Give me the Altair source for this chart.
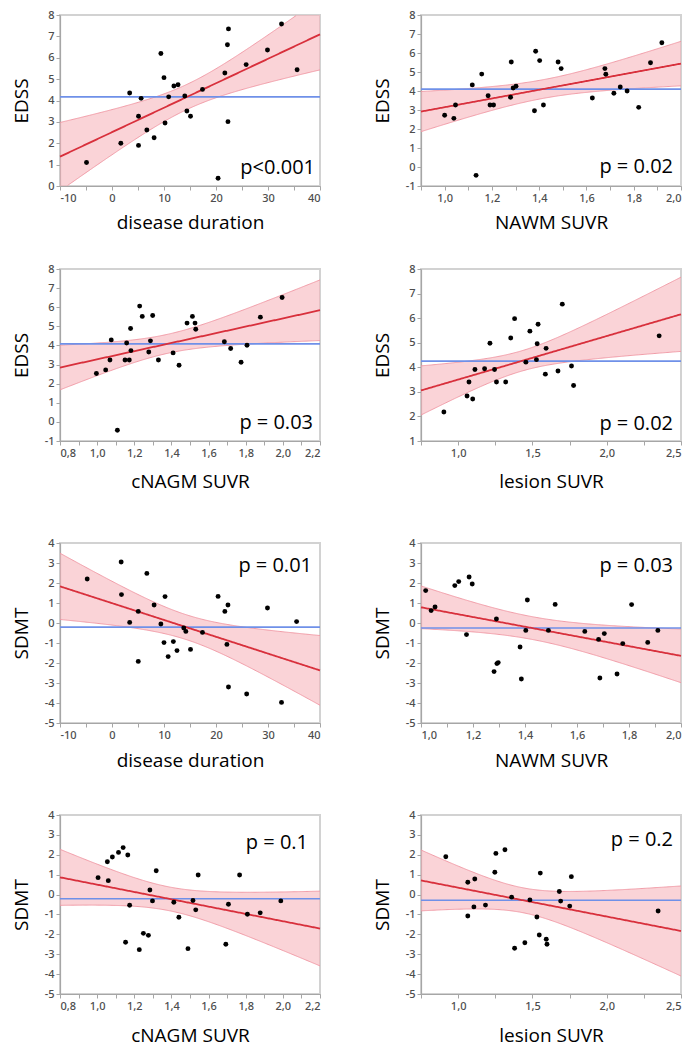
import altair as alt
import numpy as np
import pandas as pd

# ---------------- data ----------------
# Row 1-2: EDSS
dd_edss_x = [-4.9, 1.7, 3.4, 5.1, 5.1, 5.6, 6.7, 8.1, 9.4, 10.0, 10.2, 10.9, 11.9, 12.7,
             14.0, 14.4, 15.1, 17.4, 20.4, 21.7, 22.2, 22.4, 22.3, 25.8, 29.9, 32.6, 35.6]
dd_edss_y = [1.1, 2.0, 4.35, 3.26, 1.9, 4.1, 2.62, 2.26, 6.2, 5.07, 2.95, 4.17, 4.68, 4.74,
             4.21, 3.51, 3.26, 4.52, 0.36, 5.29, 6.61, 7.35, 3.01, 5.68, 6.36, 7.58, 5.44]

nawm_edss_x = [1.0, 1.039, 1.046, 1.117, 1.133, 1.157, 1.184, 1.192, 1.207, 1.282, 1.279, 1.29,
               1.302, 1.385, 1.38, 1.402, 1.418, 1.48, 1.493, 1.625, 1.678, 1.682, 1.716, 1.743,
               1.772, 1.821, 1.871, 1.919]
nawm_edss_y = [2.72, 2.56, 3.26, 4.32, -0.44, 4.89, 3.75, 3.26, 3.26, 5.53, 3.67, 4.16,
               4.25, 6.09, 2.96, 5.6, 3.26, 5.53, 5.18, 3.63, 5.18, 4.88, 3.88, 4.21,
               4.0, 3.14, 5.49, 6.54]

cnagm_edss_x = [0.996, 1.046, 1.069, 1.076, 1.109, 1.15, 1.159, 1.173, 1.18, 1.182, 1.229, 1.243,
                1.278, 1.287, 1.299, 1.33, 1.409, 1.441, 1.484, 1.513, 1.527, 1.531, 1.685, 1.719,
                1.775, 1.807, 1.879, 1.996]
cnagm_edss_y = [2.53, 2.72, 3.24, 4.29, -0.44, 3.24, 4.13, 3.24, 4.89, 3.73, 6.06, 5.52,
                3.66, 4.24, 5.57, 3.24, 3.61, 2.96, 5.17, 5.52, 5.17, 4.85, 4.19, 3.84,
                3.12, 4.01, 5.48, 6.51]

lesion_edss_x = [0.904, 1.06, 1.073, 1.098, 1.113, 1.178, 1.214, 1.245, 1.258, 1.32, 1.354, 1.38,
                 1.456, 1.483, 1.527, 1.532, 1.538, 1.587, 1.592, 1.672, 1.701, 1.763, 1.777, 2.353]
lesion_edss_y = [2.18, 2.83, 3.4, 2.71, 3.91, 3.94, 4.98, 3.91, 3.4, 3.4, 5.19, 5.98,
                 4.21, 5.47, 4.31, 4.96, 5.75, 3.72, 4.77, 3.85, 6.57, 4.05, 3.26, 5.28]

# Row 3-4: SDMT
dd_sdmt_x = [-4.77, 1.76, 1.82, 3.4, 5.05, 5.05, 6.7, 8.1, 9.4, 10.2, 10.0, 10.8, 11.8, 12.5,
             13.8, 14.2, 15.1, 17.4, 20.4, 21.7, 22.3, 22.1, 22.4, 25.9, 29.9, 32.6, 35.5]
dd_sdmt_y = [2.2, 3.05, 1.42, 0.03, 0.58, -1.92, 2.48, 0.9, -0.05, 1.32, -0.98, -1.68, -0.93, -1.38,
             -0.25, -0.42, -1.32, -0.47, 1.33, 0.58, 0.9, -1.07, -3.2, -3.55, 0.75, -3.97, 0.07]

nawm_sdmt_x = [1.018, 1.039, 1.054, 1.13, 1.145, 1.185, 1.197, 1.175, 1.281, 1.29, 1.292, 1.297,
               1.381, 1.386, 1.409, 1.403, 1.49, 1.516, 1.63, 1.683, 1.688, 1.705, 1.754, 1.776,
               1.81, 1.872, 1.911]
nawm_sdmt_y = [1.62, 0.62, 0.8, 1.87, 2.07, 2.3, 1.95, -0.58, -2.43, 0.2, -2.03, -1.98,
               -1.2, -2.8, 1.15, -0.37, -0.37, 0.93, -0.42, -0.82, -2.75, -0.53, -2.55, -1.03,
               0.92, -0.97, -0.37]

cnagm_sdmt_x = [1.005, 1.055, 1.06, 1.082, 1.115, 1.14, 1.153, 1.165, 1.175, 1.227, 1.249, 1.276,
                1.284, 1.298, 1.318, 1.413, 1.44, 1.489, 1.516, 1.531, 1.544, 1.693, 1.707, 1.767,
                1.809, 1.878, 1.989]
cnagm_sdmt_y = [0.85, 1.65, 0.7, 1.89, 2.12, 2.36, -2.4, 1.99, -0.54, -2.77, -1.95, -2.05,
                0.23, -0.32, 1.2, -0.39, -1.14, -2.72, -0.3, -0.77, 0.98, -2.5, -0.49, 0.98,
                -0.99, -0.92, -0.32]

lesion_sdmt_x = [0.917, 1.065, 1.065, 1.106, 1.112, 1.184, 1.247, 1.254, 1.315, 1.36, 1.38, 1.449,
                 1.483, 1.53, 1.546, 1.553, 1.593, 1.598, 1.681, 1.69, 1.751, 1.762, 2.346]
lesion_sdmt_y = [1.9, 0.62, -1.08, -0.62, 0.78, -0.53, 1.12, 2.07, 2.25, -0.13, -2.7, -2.42,
                 -0.27, -1.13, -2.03, 1.08, -2.25, -2.5, 0.15, -0.33, -0.58, 0.9, -0.83]

p_values = ["p<0.001", "p = 0.02", "p = 0.03", "p = 0.02",
            "p = 0.01", "p = 0.03", "p = 0.1", "p = 0.2"]
x_titles = ["disease duration", "NAWM SUVR", "cNAGM SUVR", "lesion SUVR"]
y_titles = ["EDSS", "SDMT"]

# ---------------- styling ----------------
FONT = "Open Sans"
TICK_FONT = "Noto Sans"
RED = "#d8303c"
BAND = "#f5aeb7"
BAND_EDGE = "#ef95a1"
BLUE = "#6f90e8"
AX_GRAY = "#a6a6a6"
W = 260

# two-sided 95% t critical values by degrees of freedom
T95 = {20: 2.086, 21: 2.080, 22: 2.074, 23: 2.069, 24: 2.064, 25: 2.060, 26: 2.056, 27: 2.052}


def frange(a, b, step):
    n = int(round((b - a) / step))
    return [round(a + i * step, 4) for i in range(n + 1)]


def panel(xs, ys, xdom, ydom, xtitle, ytitle, major, minor, decimals,
          ptext, p_right, p_y, height, xtpad):
    pts = pd.DataFrame({"x": xs, "y": ys})
    xa = np.array(xs, float)
    ya = np.array(ys, float)
    n = len(xa)
    slope, icpt = np.polyfit(xa, ya, 1)
    resid = ya - (icpt + slope * xa)
    s = np.sqrt((resid ** 2).sum() / (n - 2))
    xm = xa.mean()
    sxx = ((xa - xm) ** 2).sum()
    grid = np.linspace(xdom[0], xdom[1], 241)
    fit = icpt + slope * grid
    hw = T95[n - 2] * s * np.sqrt(1.0 / n + (grid - xm) ** 2 / sxx)
    lo = fit - hw
    hi = fit + hw
    # the filled band is shown only inside the plot area
    band = pd.DataFrame({"x": grid, "y": fit,
                         "lo": np.clip(lo, ydom[0], ydom[1]),
                         "hi": np.clip(hi, ydom[0], ydom[1])})
    lo_df = pd.DataFrame({"x": grid, "y": lo})
    lo_df = lo_df[(lo_df.y >= ydom[0]) & (lo_df.y <= ydom[1])]
    hi_df = pd.DataFrame({"x": grid, "y": hi})
    hi_df = hi_df[(hi_df.y >= ydom[0]) & (hi_df.y <= ydom[1])]

    if decimals == 0:
        lab = (f"abs(datum.value/{major} - round(datum.value/{major})) < 0.001 "
               f"? toString(datum.value) : ''")
    else:
        lab = (f"abs(datum.value/{major} - round(datum.value/{major})) < 0.001 "
               f"? replace(format(datum.value, '.{decimals}f'), '.', ',') : ''")

    X = alt.X("x:Q",
              scale=alt.Scale(domain=xdom, nice=False, zero=False),
              axis=alt.Axis(title=xtitle, values=frange(xdom[0], xdom[1], minor),
                            labelExpr=lab, labelOverlap=False, titlePadding=xtpad,
                            minExtent=18, maxExtent=18))
    yvals = list(range(ydom[0], ydom[1] + 1))
    yscale = alt.Scale(domain=ydom, nice=False, zero=False)
    yaxis = alt.Axis(title=ytitle, values=yvals, labelExpr="toString(datum.value)",
                     titlePadding=6, minExtent=23, maxExtent=23)
    Y = alt.Y("y:Q", scale=yscale, axis=yaxis)

    area = alt.Chart(band).mark_area(color=BAND, opacity=0.55).encode(
        x=X, y=alt.Y("lo:Q", scale=yscale, axis=yaxis), y2="hi:Q")
    lo_edge = alt.Chart(lo_df).mark_line(color=BAND_EDGE, strokeWidth=0.9).encode(x=X, y=Y)
    hi_edge = alt.Chart(hi_df).mark_line(color=BAND_EDGE, strokeWidth=0.9).encode(x=X, y=Y)
    mean_rule = alt.Chart(pts).mark_rule(color=BLUE, strokeWidth=1.6).encode(
        y=alt.Y("mean(y):Q", scale=yscale, axis=yaxis))
    fit_line = alt.Chart(band).mark_line(color=RED, strokeWidth=1.8).encode(x=X, y=Y)
    dots = alt.Chart(pts).mark_circle(color="black", opacity=1, size=24).encode(x=X, y=Y)
    ptxt = alt.Chart(pd.DataFrame({"p": [ptext]})).mark_text(
        align="right", baseline="middle", font=FONT, fontSize=20, color="black"
    ).encode(x=alt.value(W - p_right), y=alt.value(p_y), text="p:N")

    return alt.layer(area, lo_edge, hi_edge, mean_rule, fit_line, dots, ptxt).properties(
        width=W, height=height)


p1 = panel(dd_edss_x, dd_edss_y, [-10, 40], [0, 8], x_titles[0], y_titles[0], 10, 5, 0,
           p_values[0], 5, 153, 171, 9)
p2 = panel(nawm_edss_x, nawm_edss_y, [0.9, 2.0], [-1, 8], x_titles[1], y_titles[0], 0.2, 0.1, 1,
           p_values[1], 8, 152, 171, 9)
p3 = panel(cnagm_edss_x, cnagm_edss_y, [0.8, 2.2], [-1, 8], x_titles[2], y_titles[0], 0.2, 0.1, 1,
           p_values[2], 7, 154, 172, 13)
p4 = panel(lesion_edss_x, lesion_edss_y, [0.75, 2.5], [1, 8], x_titles[3], y_titles[0], 0.5, 0.25, 1,
           p_values[3], 8, 155, 172, 13)
p5 = panel(dd_sdmt_x, dd_sdmt_y, [-10, 40], [-5, 4], x_titles[0], y_titles[1], 10, 5, 0,
           p_values[4], 8, 23, 180, 10)
p6 = panel(nawm_sdmt_x, nawm_sdmt_y, [1.0, 2.0], [-5, 4], x_titles[1], y_titles[1], 0.2, 0.1, 1,
           p_values[5], 8, 23, 180, 10)
p7 = panel(cnagm_sdmt_x, cnagm_sdmt_y, [0.8, 2.2], [-5, 4], x_titles[2], y_titles[1], 0.2, 0.1, 1,
           p_values[6], 12, 28, 179, 14)
p8 = panel(lesion_sdmt_x, lesion_sdmt_y, [0.75, 2.5], [-5, 4], x_titles[3], y_titles[1], 0.5, 0.25, 1,
           p_values[7], 8, 25, 179, 14)

HS = 47
row1 = alt.hconcat(p1, p2, spacing=HS)
row2 = alt.hconcat(p3, p4, spacing=HS)
row3 = alt.hconcat(p5, p6, spacing=HS)
row4 = alt.hconcat(p7, p8, spacing=HS)

chart = alt.vconcat(
    row1,
    alt.vconcat(row2, alt.vconcat(row3, row4, spacing=37), spacing=44),
    spacing=29,
).properties(
    padding={"left": 3, "top": 0, "right": 0, "bottom": 0},
).configure(
    background="white",
).configure_view(
    stroke="#d2d2d2", strokeWidth=2, fill="white"
).configure_axis(
    grid=False,
    domainColor=AX_GRAY, domainWidth=1.2,
    tickColor=AX_GRAY, tickSize=4, tickWidth=1,
    labelFont=TICK_FONT, labelFontSize=11, labelColor="#4d4d4d", labelPadding=2,
    labelFontWeight=500,
    titleFont=FONT, titleFontSize=19, titleFontWeight="normal", titleColor="black",
)

chart.save("out.html", embed_options={"renderer": "svg", "actions": False})
